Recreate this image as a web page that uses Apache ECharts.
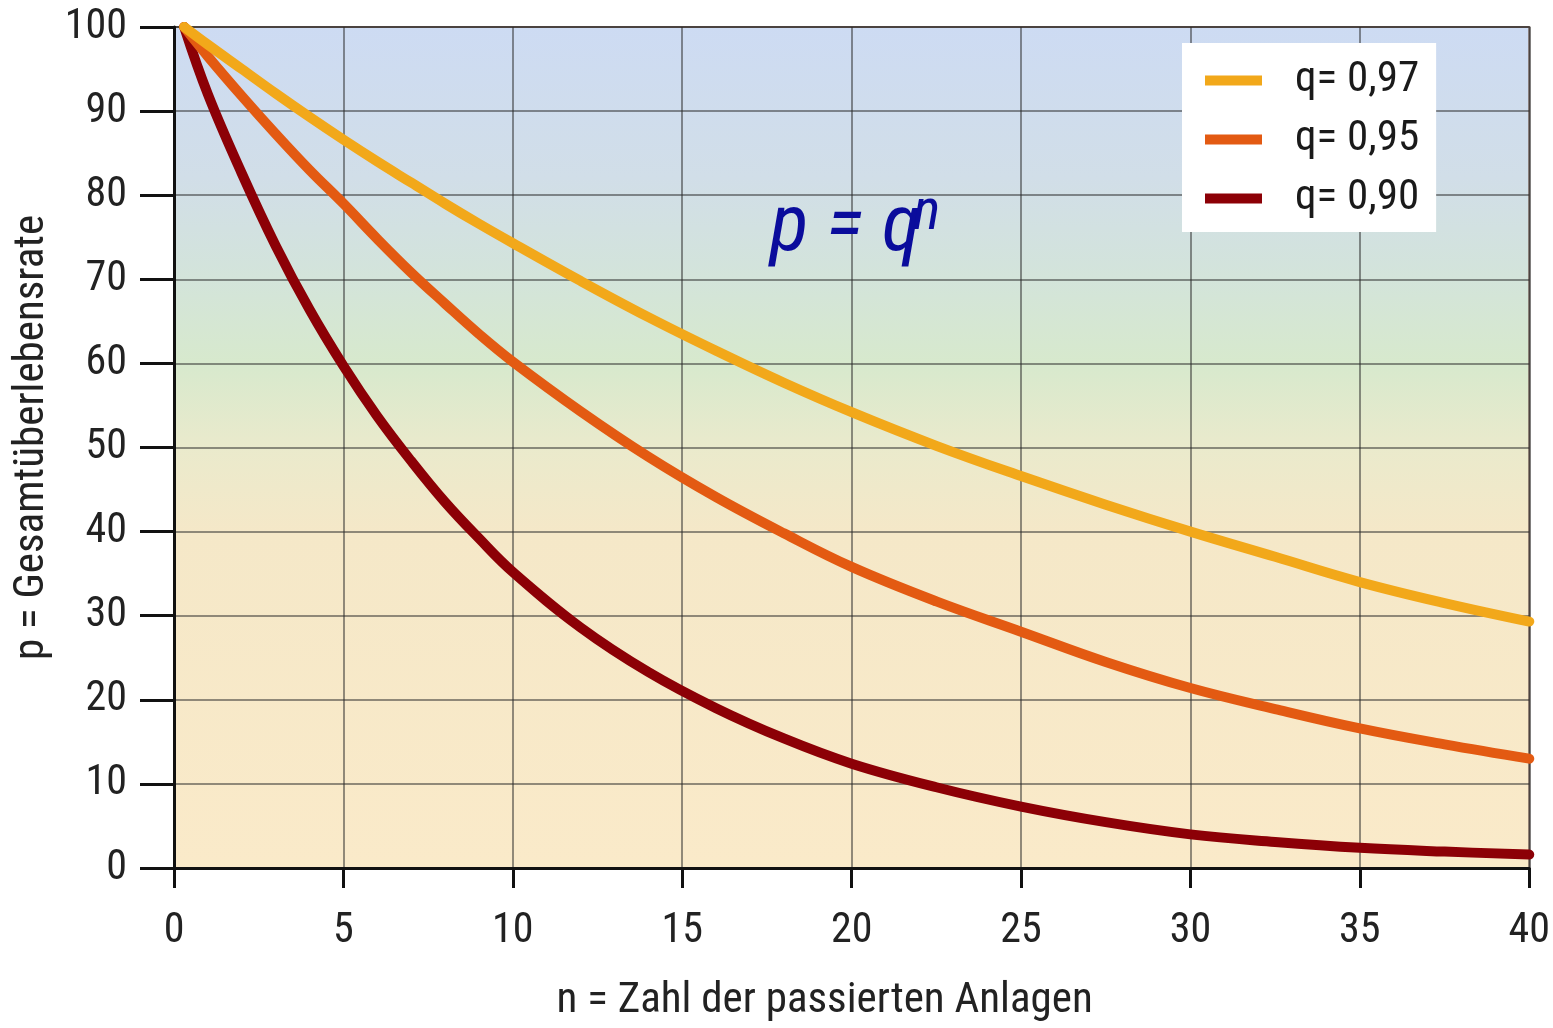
<!DOCTYPE html>
<html>
<head>
<meta charset="utf-8">
<script src="https://cdn.jsdelivr.net/npm/echarts@6/dist/echarts.min.js"></script>
<style>
html,body{margin:0;padding:0;background:#fff;}
#c{width:1553px;height:1028px;}
</style>
</head>
<body>
<div id="c"></div>
<script>
// Data
var nValues   = [0.3, 1, 2, 3, 4, 5, 6, 7, 8, 9, 10, 12, 14, 16, 18, 20, 22.5, 25, 27.5, 30, 32.5, 35, 37.5, 40];
var q097Vals  = [100, 97.9, 95.0, 92.1, 89.3, 86.6, 84.0, 81.5, 79.0, 76.6, 74.3, 69.8, 65.5, 61.5, 57.7, 54.2, 50.2, 46.6, 43.2, 40.0, 37.0, 34.0, 31.5, 29.3];
var q095Vals  = [100, 96.5, 91.8, 87.3, 83.0, 79.0, 74.8, 70.8, 67.1, 63.5, 60.2, 54.3, 48.9, 44.1, 39.8, 35.8, 31.7, 28.1, 24.5, 21.4, 18.9, 16.6, 14.7, 13.0];
var q090Vals  = [100, 92.0, 82.6, 74.0, 66.4, 59.7, 53.7, 48.4, 43.5, 39.2, 35.2, 28.6, 23.3, 19.0, 15.4, 12.4, 9.6, 7.3, 5.45, 4.0, 3.1, 2.4, 1.95, 1.6];
var seriesNames = ['q= 0,97', 'q= 0,95', 'q= 0,90'];
var xTicks = [0, 5, 10, 15, 20, 25, 30, 35, 40];
var yTicks = [0, 10, 20, 30, 40, 50, 60, 70, 80, 90, 100];
var xTitle = 'n = Zahl der passierten Anlagen';
var yTitle = 'p = Gesamtüberlebensrate';

var FONT = "'Liberation Sans Narrow','Arial Narrow','Roboto Condensed',sans-serif";
var colors = ['#f2a81a', '#e35a12', '#8c0006'];

function pairs(vals){ return nValues.map(function(n,i){ return [n, vals[i]]; }); }

var chart = echarts.init(document.getElementById('c'));
var allVals = [q097Vals, q095Vals, q090Vals];
var series = allVals.map(function(v,i){
  return {
    name: seriesNames[i], type: 'line', data: pairs(v), smooth: 0.4,
    showSymbol: false, symbol: 'none',
    lineStyle: {color: colors[i], width: 10, cap: 'round', join: 'round'},
    itemStyle: {color: colors[i]}, z: 3 + (2 - i)
  };
});

chart.setOption({
  animation: false,
  backgroundColor: '#ffffff',
  grid: {
    left: 174, right: 22, top: 27, bottom: 158, show: true,
    borderColor: '#6e5e58', borderWidth: 2,
    backgroundColor: new echarts.graphic.LinearGradient(0, 0, 0, 1, [
      {offset: 0.00, color: '#cddbf3'},
      {offset: 0.18, color: '#d1dee8'},
      {offset: 0.30, color: '#d3e4da'},
      {offset: 0.40, color: '#d7e9cd'},
      {offset: 0.50, color: '#eaeacc'},
      {offset: 0.60, color: '#f5e8c8'},
      {offset: 1.00, color: '#faeac9'}
    ])
  },
  legend: {
    orient: 'vertical', left: 1182, top: 43,
    backgroundColor: '#ffffff', borderWidth: 0,
    padding: [16, 17, 12, 23], itemGap: 16,
    itemWidth: 57, itemHeight: 10, icon: 'rect',
    data: seriesNames,
    textStyle: {fontFamily: FONT, fontSize: 43, color: '#1a1a1a', padding: [0, 0, 0, 28], lineHeight: 42}
  },
  xAxis: {
    type: 'value', min: xTicks[0], max: xTicks[xTicks.length-1], interval: 5,
    name: xTitle, nameLocation: 'middle', nameGap: 112,
    nameTextStyle: {fontFamily: FONT, fontSize: 43, color: '#222', padding: [0, 54, 0, 0]},
    axisLine: {show: true, onZero: false, lineStyle: {color: '#111', width: 3}},
    axisTick: {show: true, length: 20, lineStyle: {color: '#111', width: 3}},
    axisLabel: {fontFamily: FONT, fontSize: 42, color: '#222', margin: 42},
    splitLine: {show: true, lineStyle: {color: 'rgba(40,40,40,0.5)', width: 2}}
  },
  yAxis: {
    type: 'value', min: yTicks[0], max: yTicks[yTicks.length-1], interval: 10,
    name: yTitle, nameLocation: 'middle', nameGap: 110, nameRotate: 90,
    nameTextStyle: {fontFamily: FONT, fontSize: 43, color: '#222', padding: [0, 0, 0, 20]},
    axisLine: {show: true, lineStyle: {color: '#111', width: 3}},
    axisTick: {show: true, length: 34, lineStyle: {color: '#111', width: 3}},
    axisLabel: {fontFamily: FONT, fontSize: 42, color: '#222', margin: 47},
    splitLine: {show: true, lineStyle: {color: 'rgba(40,40,40,0.5)', width: 2}}
  },
  graphic: [
    {type: 'text', left: 770, top: 190, z: 10,
     style: {text: 'p = q', fontFamily: FONT, fontStyle: 'italic', fontSize: 80, fill: '#0a0c9c'}},
    {type: 'text', left: 913, top: 185, z: 11,
     style: {text: 'n', fontFamily: FONT, fontStyle: 'italic', fontSize: 58, fill: '#0a0c9c'}}
  ],
  series: series
});
</script>
</body>
</html>
